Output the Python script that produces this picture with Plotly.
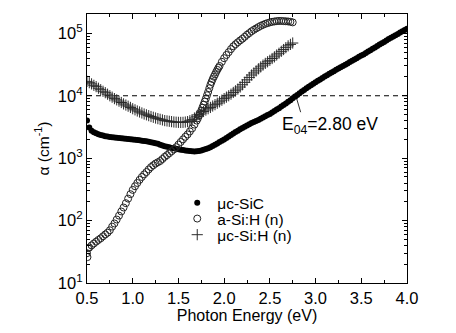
import plotly.graph_objects as go

# ---- absorption spectra (photon energy in eV, alpha in cm^-1) ----
e_sic = [0.500, 0.525, 0.550, 0.575, 0.600, 0.625, 0.650, 0.675, 0.700, 0.725,
         0.750, 0.775, 0.800, 0.825, 0.850, 0.875, 0.900, 0.925, 0.950, 0.975,
         1.000, 1.025, 1.050, 1.075, 1.100, 1.125, 1.150, 1.175, 1.200, 1.225,
         1.250, 1.275, 1.300, 1.325, 1.350, 1.375, 1.400, 1.425, 1.450, 1.475,
         1.500, 1.525, 1.550, 1.575, 1.600, 1.625, 1.650, 1.675, 1.700, 1.725,
         1.750, 1.775, 1.800, 1.825, 1.850, 1.875, 1.900, 1.925, 1.950, 1.975,
         2.000, 2.025, 2.050, 2.075, 2.100, 2.125, 2.150, 2.175, 2.200, 2.225,
         2.250, 2.275, 2.300, 2.325, 2.350, 2.375, 2.400, 2.425, 2.450, 2.475,
         2.500, 2.525, 2.550, 2.575, 2.600, 2.625, 2.650, 2.675, 2.700, 2.725,
         2.750, 2.775, 2.800, 2.825, 2.850, 2.875, 2.900, 2.925, 2.950, 2.975,
         3.000, 3.025, 3.050, 3.075, 3.100, 3.125, 3.150, 3.175, 3.200, 3.225,
         3.250, 3.275, 3.300, 3.325, 3.350, 3.375, 3.400, 3.425, 3.450, 3.475,
         3.500, 3.525, 3.550, 3.575, 3.600, 3.625, 3.650, 3.675, 3.700, 3.725,
         3.750, 3.775, 3.800, 3.825, 3.850, 3.875, 3.900, 3.925, 3.950, 3.975,
         4.000]
a_sic = [4000, 3100, 2750, 2600, 2500, 2420, 2350, 2300, 2250, 2220,
         2190, 2170, 2150, 2130, 2110, 2090, 2070, 2050, 2030, 2010,
         2000, 1980, 1960, 1930, 1900, 1880, 1860, 1830, 1800, 1770,
         1740, 1700, 1640, 1590, 1550, 1520, 1490, 1460, 1440, 1410,
         1390, 1370, 1350, 1330, 1315, 1300, 1290, 1285, 1290, 1305,
         1330, 1360, 1400, 1440, 1490, 1560, 1640, 1720, 1810, 1900,
         2000, 2100, 2220, 2350, 2480, 2620, 2760, 2900, 3050, 3200,
         3350, 3500, 3650, 3800, 3950, 4100, 4300, 4500, 4700, 4900,
         5100, 5400, 5700, 6000, 6300, 6700, 7100, 7500, 8000, 8500,
         9100, 9700, 10300, 11000, 11700, 12400, 13200, 14000, 14800, 15600,
         16500, 17400, 18300, 19300, 20300, 21400, 22500, 23600, 24800, 26000,
         27300, 28600, 30000, 31500, 33000, 34600, 36300, 38000, 40000, 42000,
         44000, 46000, 48500, 51000, 53500, 56500, 59500, 62500, 66000, 69500,
         73000, 77000, 81000, 85000, 89000, 93500, 98000, 103000, 108000, 113000,
         118000]

e_asi = [0.500, 0.505, 0.512, 0.525, 0.550, 0.575, 0.600, 0.625, 0.650, 0.675,
         0.700, 0.725, 0.750, 0.775, 0.800, 0.825, 0.850, 0.875, 0.900, 0.925,
         0.950, 0.975, 1.000, 1.025, 1.050, 1.075, 1.100, 1.125, 1.150, 1.175,
         1.200, 1.225, 1.250, 1.275, 1.300, 1.325, 1.350, 1.375, 1.400, 1.425,
         1.450, 1.475, 1.500, 1.525, 1.550, 1.575, 1.600, 1.625, 1.650, 1.675,
         1.700, 1.7125, 1.725, 1.7375, 1.750, 1.7625, 1.775, 1.7875, 1.800, 1.8125,
         1.825, 1.8375, 1.850, 1.8625, 1.875, 1.8875, 1.900, 1.9125, 1.925, 1.9375,
         1.950, 1.975, 2.000, 2.025, 2.050, 2.075, 2.100, 2.125, 2.150, 2.175,
         2.200, 2.225, 2.250, 2.275, 2.300, 2.325, 2.350, 2.375, 2.400, 2.425,
         2.450, 2.475, 2.500, 2.525, 2.550, 2.575, 2.600, 2.625, 2.650, 2.675,
         2.700, 2.725, 2.750]
a_asi = [30, 26, 36, 37, 40, 43, 46, 49, 52, 56,
         60, 64, 70, 80, 90, 104, 120, 140, 162, 190,
         225, 265, 310, 355, 400, 450, 500, 550, 600, 660,
         720, 770, 820, 860, 900, 970, 1050, 1120, 1200, 1290,
         1380, 1500, 1650, 1820, 2000, 2200, 2400, 2680, 3000, 3450,
         4000, 4350, 4800, 5250, 5800, 6450, 7200, 8050, 9000, 10200,
         11500, 13200, 15000, 16700, 18500, 20200, 22000, 24000, 26000, 28000,
         30000, 35000, 40000, 45000, 50000, 56000, 62000, 67000, 72000, 77000,
         82000, 88000, 95000, 101000, 108000, 114000, 120000, 126000, 132000, 137000,
         142000, 146000, 150000, 153000, 155000, 157000, 158000, 158000, 157000, 156000,
         155000, 153000, 150000]

e_csi = [0.500, 0.525, 0.550, 0.575, 0.600, 0.625, 0.650, 0.675, 0.700, 0.725,
         0.750, 0.775, 0.800, 0.825, 0.850, 0.875, 0.900, 0.925, 0.950, 0.975,
         1.000, 1.025, 1.050, 1.075, 1.100, 1.125, 1.150, 1.175, 1.200, 1.225,
         1.250, 1.275, 1.300, 1.325, 1.350, 1.375, 1.400, 1.425, 1.450, 1.475,
         1.500, 1.525, 1.550, 1.575, 1.600, 1.625, 1.650, 1.675, 1.700, 1.725,
         1.750, 1.775, 1.800, 1.825, 1.850, 1.875, 1.900, 1.925, 1.950, 1.975,
         2.000, 2.025, 2.050, 2.075, 2.100, 2.125, 2.150, 2.175, 2.200, 2.225,
         2.250, 2.275, 2.300, 2.325, 2.350, 2.375, 2.400, 2.425, 2.450, 2.475,
         2.500, 2.525, 2.550, 2.575, 2.600, 2.625, 2.650, 2.675, 2.700, 2.725,
         2.750]
a_csi = [17000, 16200, 15500, 14700, 14000, 13200, 12500, 11800, 11200, 10600,
         10000, 9500, 9000, 8600, 8200, 7800, 7400, 7100, 6800, 6500,
         6200, 5950, 5700, 5500, 5300, 5100, 4950, 4800, 4650, 4520,
         4400, 4300, 4200, 4100, 4000, 3950, 3900, 3850, 3800, 3770,
         3750, 3740, 3750, 3790, 3850, 3980, 4150, 4400, 4700, 5000,
         5300, 5600, 5900, 6200, 6500, 6850, 7200, 7600, 8000, 8500,
         9000, 9500, 10000, 10600, 11300, 12000, 12800, 13800, 15000, 16400,
         18000, 19700, 21500, 23200, 25000, 27000, 29000, 31000, 33000, 35000,
         37000, 39500, 42000, 45000, 48000, 51500, 55000, 59000, 63000, 66500,
         70000]

series_names = ["\u03bcc-SiC", "a-Si:H (n)", "\u03bcc-Si:H (n)"]

# decade ticks of the alpha axis
y_tick_vals = [1e1, 1e2, 1e3, 1e4, 1e5]
y_tick_text = ["10<sup>1</sup>", "10<sup>2</sup>", "10<sup>3</sup>",
               "10<sup>4</sup>", "10<sup>5</sup>"]

alpha_ref = 1e4          # level used to define E04
e04_label = "E<sub>04</sub>=2.80 eV"

FONT = "Arial, Liberation Sans, Helvetica, sans-serif"

# minor ticks at 2..9 within each decade
y_minor_vals = [m * 10 ** k for k in range(1, 6) for m in range(2, 10)]

fig = go.Figure()

fig.add_trace(go.Scatter(
    x=[0.5, 4.0], y=[alpha_ref, alpha_ref], mode="lines",
    line=dict(color="black", width=1, dash="5px,4px"),
    showlegend=False, hoverinfo="skip"))

fig.add_trace(go.Scatter(
    x=e_sic, y=a_sic, mode="markers", name=series_names[0], legend="legend",
    marker=dict(symbol="circle", size=6, color="black")))

fig.add_trace(go.Scatter(
    x=e_asi, y=a_asi, mode="markers", name=series_names[1], legend="legend2",
    marker=dict(symbol="circle-open", size=7, color="#222",
                line=dict(width=1, color="#222"))))

fig.add_trace(go.Scatter(
    x=e_csi, y=a_csi, mode="markers", name=series_names[2], legend="legend3",
    marker=dict(symbol="cross-thin", size=8, color="#2a2a2a",
                line=dict(width=1, color="#2a2a2a"))))

# E04 label with a short pointer onto the muc-SiC curve
fig.add_annotation(x=2.787, y=3.985, xref="x", yref="y", text="",
                   showarrow=True, arrowhead=2, arrowsize=0.6, arrowwidth=0.8,
                   arrowcolor="black", ax=5, ay=17)
fig.add_annotation(x=2.61, y=3.53, xref="x", yref="y", text=e04_label,
                   showarrow=False, xanchor="left", yanchor="middle",
                   font=dict(family=FONT, size=17.5, color="black"))

axis_common = dict(showline=True, linecolor="black", linewidth=1.3,
                   mirror="ticks", ticks="inside", tickcolor="black",
                   tickwidth=1, ticklen=5, showgrid=False, zeroline=False,
                   tickfont=dict(family=FONT, size=16.5, color="black"))

fig.update_xaxes(range=[0.5, 4.0], dtick=0.5, tick0=0.5, tickformat=".1f",
                 minor=dict(ticks="inside", dtick=0.25, ticklen=3,
                            tickcolor="black", showgrid=False),
                 title=dict(text="Photon Energy (eV)", standoff=3,
                            font=dict(family=FONT, size=16, color="black")),
                 **axis_common)
fig.update_yaxes(type="log", range=[1, 5.31], tickvals=y_tick_vals,
                 ticktext=y_tick_text,
                 minor=dict(ticks="inside", tickvals=y_minor_vals, ticklen=3,
                            tickcolor="black", showgrid=False),
                 title=dict(text="\u03b1 (cm<sup>-1</sup>)", standoff=4,
                            font=dict(family=FONT, size=15.5, color="black")),
                 **axis_common)

# one single-entry legend per series so the rows sit close together
legend_style = dict(x=0.282, xanchor="left", yanchor="middle",
                    bgcolor="rgba(0,0,0,0)", borderwidth=0,
                    font=dict(family=FONT, size=15.5, color="black"),
                    itemsizing="trace")

fig.update_layout(
    width=456, height=333,
    margin=dict(l=87, r=49, t=14, b=50),
    paper_bgcolor="white", plot_bgcolor="white",
    font=dict(family=FONT, size=15.5, color="black"),
    legend=dict(y=0.297, **legend_style),
    legend2=dict(y=0.238, **legend_style),
    legend3=dict(y=0.178, **legend_style),
)

fig.write_html("out.html")
